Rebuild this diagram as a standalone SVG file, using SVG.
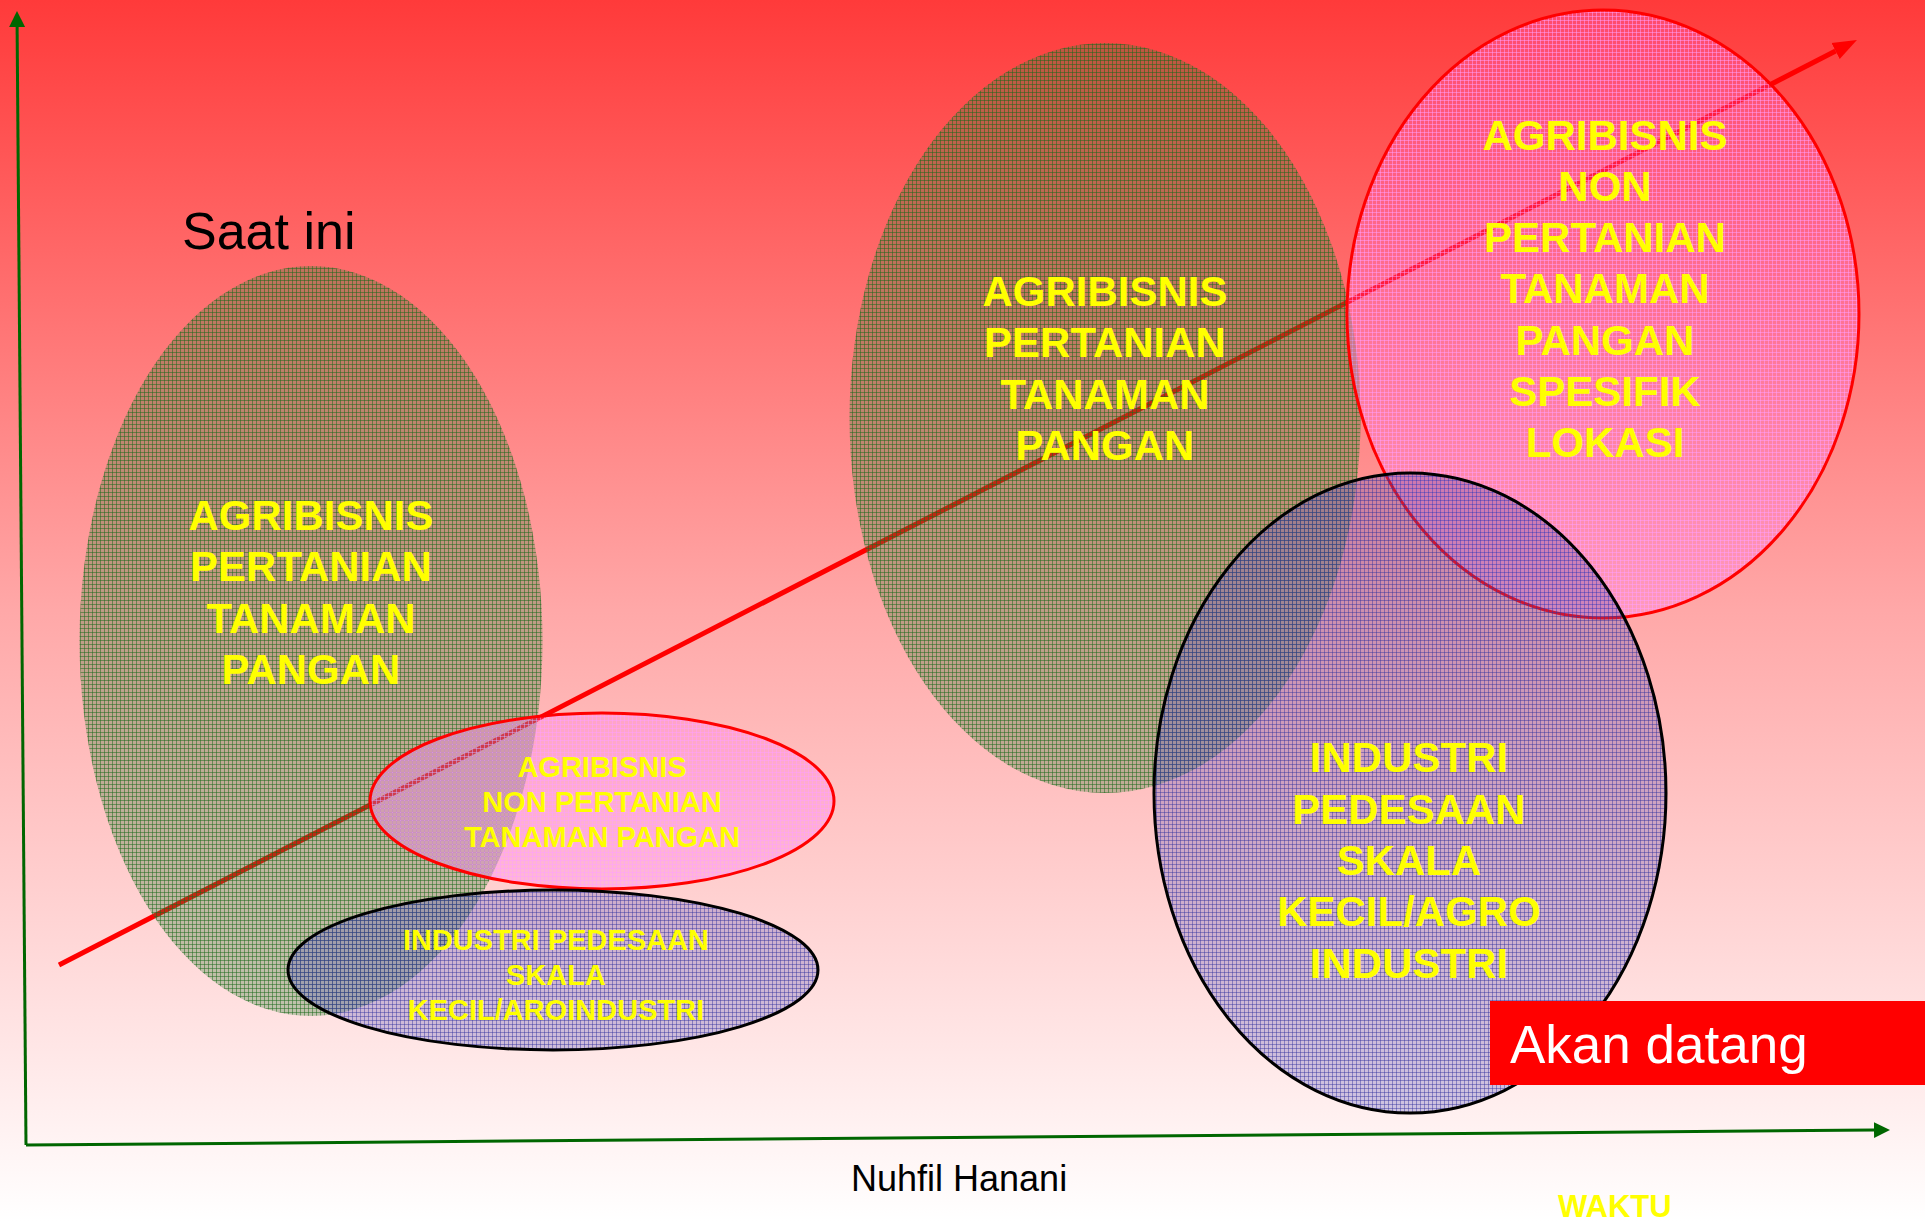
<svg xmlns="http://www.w3.org/2000/svg" width="1925" height="1221" viewBox="0 0 1925 1221">
<defs>
  <linearGradient id="bg" x1="0" y1="0" x2="0" y2="1">
    <stop offset="0" stop-color="#FF3A3A"/>
    <stop offset="0.5" stop-color="#FFA8A8"/>
    <stop offset="1" stop-color="#FFFFFF"/>
  </linearGradient>
  <pattern id="pGreen" width="4" height="4" patternUnits="userSpaceOnUse">
    <rect width="4" height="4" fill="#3A803A" fill-opacity="0.32"/>
    <rect width="4" height="1" fill="#1A6A1A" fill-opacity="0.5"/>
    <rect width="1" height="4" fill="#1A6A1A" fill-opacity="0.5"/>
  </pattern>
  <pattern id="pBlue" width="4" height="4" patternUnits="userSpaceOnUse">
    <rect width="4" height="4" fill="#5050B8" fill-opacity="0.28"/>
    <rect width="4" height="1" fill="#34349E" fill-opacity="0.45"/>
    <rect width="1" height="4" fill="#34349E" fill-opacity="0.45"/>
  </pattern>
  <pattern id="pPink" width="4" height="4" patternUnits="userSpaceOnUse">
    <rect width="4" height="4" fill="#FF70EE" fill-opacity="0.26"/>
    <rect width="4" height="1" fill="#FFA0FF" fill-opacity="0.5"/>
    <rect width="1" height="4" fill="#FFA0FF" fill-opacity="0.5"/>
  </pattern>
  <marker id="mGreen" markerUnits="userSpaceOnUse" markerWidth="18" markerHeight="18" viewBox="0 -9 18 18" refX="0" refY="0" orient="auto">
    <path d="M0,-8 L16,0 L0,8 z" fill="#006600"/>
  </marker>
  <marker id="mRed" markerUnits="userSpaceOnUse" markerWidth="26" markerHeight="20" viewBox="0 -10 26 20" refX="0" refY="0" orient="auto">
    <path d="M0,-9 L24,0 L0,9 z" fill="#FF0000"/>
  </marker>
  <style>
    .lbl { font-family: "Liberation Sans", Arial, sans-serif; font-weight: bold; fill: #FFFF00; text-anchor: middle; }
    .big { font-size: 42px; }
    .small { font-size: 29px; }
    .green { fill: url(#pGreen); }
    .blue { fill: url(#pBlue); stroke: #000000; stroke-width: 3; }
    .pink { fill: url(#pPink); stroke: #FF0000; stroke-width: 3; }
    .axis { stroke: #006600; stroke-width: 3; fill: none; }
  </style>
</defs>

<rect x="0" y="0" width="1925" height="1221" fill="url(#bg)"/>

<g id="connectors">
  <line class="axis" x1="26" y1="1145" x2="17.1" y2="27" marker-end="url(#mGreen)"/>
  <line class="axis" x1="26" y1="1145" x2="1874" y2="1130.1" marker-end="url(#mGreen)"/>
  <line id="trend" x1="59" y1="965" x2="1835.6" y2="51" stroke="#FF0000" stroke-width="5" marker-end="url(#mRed)"/>
</g>

<g id="node-agri-left">
  <ellipse class="green" cx="311" cy="641" rx="231.5" ry="375"/>
  <text class="lbl big" x="311" y="530">AGRIBISNIS</text>
  <text class="lbl big" x="311" y="581">PERTANIAN</text>
  <text class="lbl big" x="311" y="633">TANAMAN</text>
  <text class="lbl big" x="311" y="684">PANGAN</text>
</g>

<g id="node-nonagri-left">
  <ellipse class="pink" cx="602" cy="801" rx="232" ry="88"/>
  <text class="lbl small" x="602" y="777">AGRIBISNIS</text>
  <text class="lbl small" x="602" y="812">NON PERTANIAN</text>
  <text class="lbl small" x="602" y="847">TANAMAN PANGAN</text>
</g>

<g id="node-industri-left">
  <ellipse class="blue" cx="553" cy="970" rx="265" ry="80"/>
  <text class="lbl small" x="556" y="950">INDUSTRI PEDESAAN</text>
  <text class="lbl small" x="556" y="985">SKALA</text>
  <text class="lbl small" x="556" y="1020">KECIL/AROINDUSTRI</text>
</g>

<g id="node-agri-mid">
  <ellipse class="green" cx="1105" cy="418" rx="255.5" ry="375"/>
  <text class="lbl big" x="1105" y="306">AGRIBISNIS</text>
  <text class="lbl big" x="1105" y="357">PERTANIAN</text>
  <text class="lbl big" x="1105" y="409">TANAMAN</text>
  <text class="lbl big" x="1105" y="460">PANGAN</text>
</g>

<g id="node-nonagri-right">
  <ellipse class="pink" cx="1603" cy="314" rx="256" ry="304"/>
  <text class="lbl big" x="1605" y="150">AGRIBISNIS</text>
  <text class="lbl big" x="1605" y="201">NON</text>
  <text class="lbl big" x="1605" y="252">PERTANIAN</text>
  <text class="lbl big" x="1605" y="303">TANAMAN</text>
  <text class="lbl big" x="1605" y="355">PANGAN</text>
  <text class="lbl big" x="1605" y="406">SPESIFIK</text>
  <text class="lbl big" x="1605" y="457">LOKASI</text>
</g>

<g id="node-industri-right">
  <ellipse class="blue" cx="1410" cy="793" rx="256" ry="320"/>
  <text class="lbl big" x="1409" y="772">INDUSTRI</text>
  <text class="lbl big" x="1409" y="824">PEDESAAN</text>
  <text class="lbl big" x="1409" y="875">SKALA</text>
  <text class="lbl big" x="1409" y="926">KECIL/AGRO</text>
  <text class="lbl big" x="1409" y="978">INDUSTRI</text>
</g>

<g id="label-saat-ini">
  <text x="182" y="249" font-family="Liberation Sans, Arial, sans-serif" font-size="52" fill="#000000">Saat ini</text>
</g>

<g id="label-akan-datang">
  <rect x="1490" y="1001" width="435" height="84" fill="#FF0000"/>
  <text x="1510" y="1063" font-family="Liberation Sans, Arial, sans-serif" font-size="53" fill="#FFFFFF">Akan datang</text>
</g>

<g id="label-author">
  <text x="851" y="1191" font-family="Liberation Sans, Arial, sans-serif" font-size="36" fill="#000000">Nuhfil Hanani</text>
</g>

<g id="label-waktu">
  <text x="1558" y="1217" font-family="Liberation Sans, Arial, sans-serif" font-weight="bold" font-size="31" fill="#FFFF00">WAKTU</text>
</g>
</svg>
